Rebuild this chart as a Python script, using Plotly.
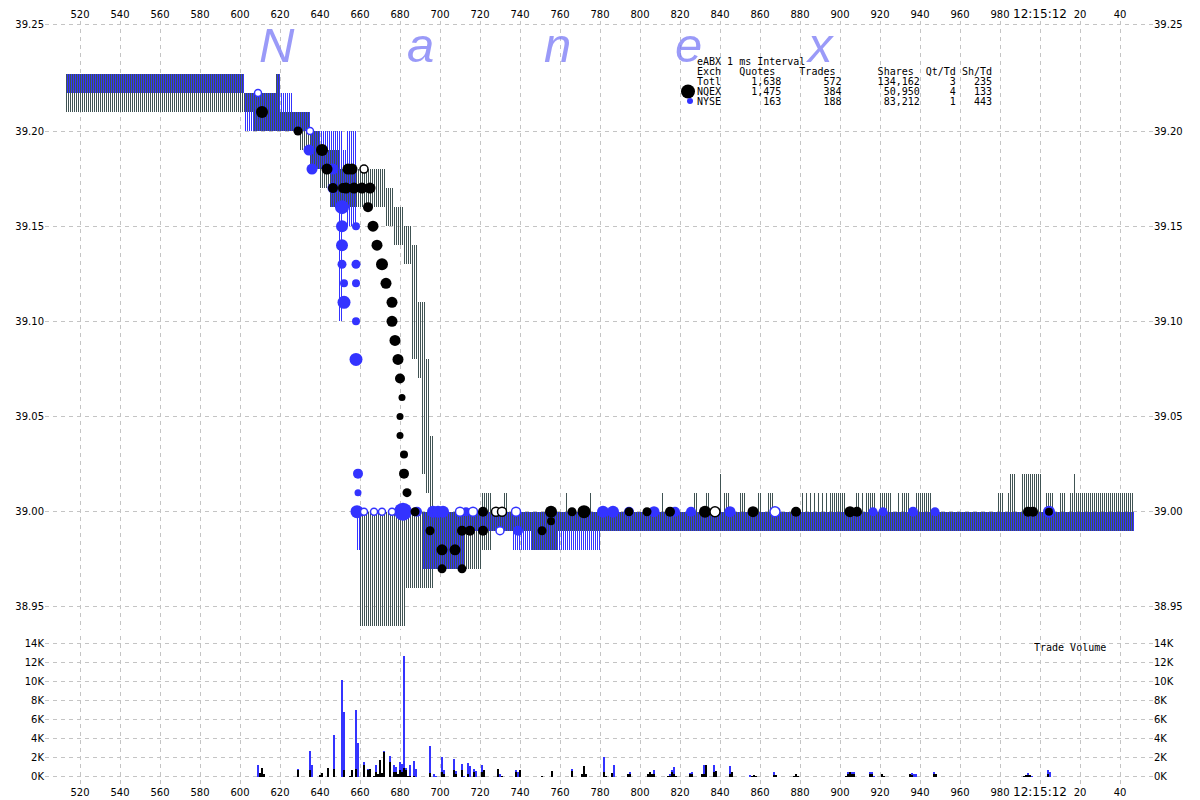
import plotly.graph_objects as go

# ---------------- axis labels ----------------
x_tick_vals = [520, 540, 560, 580, 600, 620, 640, 660, 680, 700, 720, 740, 760, 780, 800,
               820, 840, 860, 880, 900, 920, 940, 960, 980, 1000, 1020, 1040]
x_tick_text = ["520", "540", "560", "580", "600", "620", "640", "660", "680", "700", "720", "740",
               "760", "780", "800", "820", "840", "860", "880", "900", "920", "940", "960", "980",
               "<span style='font-size:12px'>12:15:12</span>", "20", "40"]
price_ticks = [38.95, 39.00, 39.05, 39.10, 39.15, 39.20, 39.2557]
price_tick_text = ["38.95", "39.00", "39.05", "39.10", "39.15", "39.20", "39.25"]
vol_ticks = [0, 2, 4, 6, 8, 10, 12, 14]
vol_tick_text = ["0K", "2K", "4K", "6K", "8K", "10K", "12K", "14K"]

# ---------------- quotes: segments (start ms, end ms, bid, ask) ----------------
# gray (NQEX) quote lines
g_t0 = [513, 602, 607, 618, 620, 630, 635, 640, 645, 650, 673, 677, 682, 686, 689, 691, 693, 695,
        660, 683, 691, 697, 721, 725, 732, 746, 759,
        895, 920, 941, 985, 991, 1003, 1018]
g_t1 = [602, 607, 618, 620, 630, 635, 640, 645, 650, 673, 677, 682, 686, 689, 691, 693, 695, 697,
        683, 691, 697, 721, 726, 746, 734, 759, 1047,
        903, 926, 946, 988, 1001, 1007, 1047]
g_bid = [39.21, 39.21, 39.20, 39.20, 39.20, 39.19, 39.18, 39.17, 39.16, 39.16, 39.15, 39.14, 39.13,
         39.08, 39.07, 39.02, 39.01, 39.00,
         38.94, 38.96, 38.96, 38.97, 38.98, 38.99, 38.99, 38.98, 38.99,
         38.99, 38.99, 38.99, 38.99, 38.99, 38.99, 38.99]
g_ask = [39.23, 39.22, 39.22, 39.23, 39.21, 39.21, 39.20, 39.19, 39.19, 39.18, 39.17, 39.16, 39.15,
         39.14, 39.11, 39.11, 39.08, 39.04,
         39.00, 39.00, 39.00, 39.00, 39.01, 39.00, 39.01, 39.00, 39.00,
         39.01, 39.01, 39.01, 39.02, 39.02, 39.01, 39.01]

# blue (NYSE) quote lines
b_t0 = [513, 602, 607, 618, 620, 626, 635, 645, 649, 651, 653, 658, 691, 712, 736, 780]
b_t1 = [602, 607, 618, 620, 626, 635, 645, 649, 651, 653, 658, 660, 712, 736, 780, 1047]
b_bid = [39.22, 39.20, 39.20, 39.20, 39.20, 39.20, 39.18, 39.16, 39.10, 39.16, 39.15, 38.98,
         38.97, 38.99, 38.98, 38.99]
b_ask = [39.23, 39.22, 39.22, 39.23, 39.22, 39.21, 39.20, 39.20, 39.20, 39.19, 39.20, 39.00,
         39.00, 39.00, 39.00, 39.00]

# single-ms gray ask spikes above the 39.00 offer
spike_ms = [763, 775, 811, 827, 828, 833, 834, 840, 842, 843, 844, 850, 851, 852, 859, 860, 864, 865,
            866, 881, 883, 885, 887, 889, 891, 893, 908, 909, 911, 913, 914, 915, 916, 917, 929, 931,
            932, 933, 934, 938, 939, 940, 979, 980, 981, 984, 1010, 1011, 1012, 1015, 1016, 1017]
spike_top = [39.01, 39.01, 39.01, 39.01, 39.01, 39.01, 39.01, 39.02, 39.01, 39.01, 39.01, 39.01, 39.01,
             39.01, 39.01, 39.01, 39.01, 39.01, 39.01, 39.01, 39.01, 39.01, 39.01, 39.01, 39.01, 39.01,
             39.01, 39.01, 39.01, 39.01, 39.01, 39.01, 39.01, 39.01, 39.01, 39.01, 39.01, 39.01, 39.01,
             39.01, 39.01, 39.01, 39.01, 39.01, 39.01, 39.01, 39.01, 39.01, 39.01, 39.01, 39.01, 39.02]

# ---------------- trades ----------------
nqex_ms = [611, 629, 641, 643.5, 654, 656, 662, 646.5, 651.5, 653, 657, 661, 665, 664, 666.5, 668.5,
           671, 673, 676, 676, 677.5, 679, 680, 681, 680, 680, 682, 682, 683.5, 687.5, 695, 701,
           707.5, 711, 715, 721.5, 701, 711, 721.5, 728, 731, 751, 755.5, 755.5, 766, 772, 794.5,
           803.5, 815, 832.5, 837.5, 856.5, 878, 905, 908.5, 994, 996.5, 1004.5]
nqex_px = [39.21, 39.20, 39.19, 39.18, 39.18, 39.18, 39.18, 39.17, 39.17, 39.17, 39.17, 39.17, 39.17,
           39.16, 39.15, 39.14, 39.13, 39.12, 39.11, 39.10, 39.09, 39.08, 39.07, 39.06, 39.05, 39.04,
           39.03, 39.02, 39.01, 39.00, 38.99, 38.98, 38.98, 38.99, 38.99, 38.99, 38.97, 38.97, 39.00,
           39.00, 39.00, 38.99, 38.995, 39.00, 39.00, 39.00, 39.00, 39.00, 39.00, 39.00, 39.00, 39.00,
           39.00, 39.00, 39.00, 39.00, 39.00, 39.00]
nqex_sz = [12, 9, 12, 11, 11, 11, 8, 10, 10, 11, 11, 11, 11, 10, 11, 11, 12, 11, 11, 11, 11, 11, 10,
           7, 7, 7, 8, 10, 9, 9, 9, 11, 11, 10, 10, 10, 9, 9, 10, 9, 9, 9, 8, 12, 9, 13, 9, 9, 10, 12,
           10, 11, 10, 11, 10, 10, 10, 8]
nqex_open = [0, 0, 0, 0, 0, 0, 1, 0, 0, 0, 0, 0, 0, 0, 0, 0, 0, 0, 0, 0, 0, 0, 0, 0, 0, 0, 0, 0, 0,
             0, 0, 0, 0, 0, 0, 0, 0, 0, 0, 1, 1, 0, 0, 0, 0, 0, 0, 0, 0, 0, 1, 0, 0, 0, 0, 0, 0, 0]

nyse_ms = [609, 635, 634.5, 636, 646.5, 646.5, 651, 651, 658, 651, 651, 658, 652, 658, 652, 658, 658,
           659, 659, 658.5, 662, 667, 671, 676, 681.5, 688.5, 696.5, 699, 701.5, 710, 713, 716.5, 730,
           739, 738, 781.5, 786.5, 794.5, 807, 817.5, 825.5, 845, 867.5, 916.5, 921.5, 936.5, 947.5,
           1004.5]
nyse_px = [39.22, 39.20, 39.19, 39.18, 39.18, 39.17, 39.16, 39.15, 39.15, 39.14, 39.13, 39.13, 39.12,
           39.12, 39.11, 39.10, 39.08, 39.02, 39.01, 39.00, 39.00, 39.00, 39.00, 39.00, 39.00, 39.00,
           39.00, 39.00, 39.00, 39.00, 39.00, 39.00, 38.99, 38.99, 39.00, 39.00, 39.00, 39.00, 39.00,
           39.00, 39.00, 39.00, 39.00, 39.00, 39.00, 39.00, 39.00, 39.00]
nyse_sz = [7, 7, 11, 11, 11, 11, 14, 12, 8, 12, 9, 9, 8, 8, 13, 8, 13, 10, 7, 13, 7, 7, 7, 7, 18, 10,
           12, 12, 12, 9, 9, 9, 8, 10, 9, 12, 12, 10, 11, 10, 10, 11, 10, 9, 9, 10, 9, 12]
nyse_open = [1, 1, 0, 0, 0, 0, 0, 0, 0, 0, 0, 0, 0, 0, 0, 0, 0, 0, 0, 0, 1, 1, 1, 1, 0, 0, 0, 0, 0, 1,
             0, 1, 1, 0, 1, 0, 0, 0, 0, 0, 0, 0, 1, 0, 0, 0, 0, 0]

# ---------------- trade volume per ms (thousands of shares) ----------------
nyse_vol_ms = [609, 629, 635, 636, 647, 651, 652, 658, 659, 662, 664, 668, 671, 672, 675, 677, 678, 680,
               681, 682, 683, 685, 687, 688, 695, 697, 698, 701, 702, 707, 708, 711, 712, 714, 715,
               717, 718, 721, 730, 738, 739, 766, 782, 787, 795, 807, 815, 816, 817, 825, 826, 832,
               837, 845, 846, 855, 857, 867, 904, 906, 907, 915, 916, 917, 936, 937, 938, 947, 994,
               996, 1004, 1005]
nyse_vol_k = [1.2, 0.8, 2.7, 1.2, 4.4, 10.15, 6.8, 7.0, 3.5, 1.5, 0.8, 1.2, 0.35, 2.7, 2.2, 1.2, 1.0,
              1.55, 1.35, 12.7, 0.9, 1.2, 1.65, 0.8, 3.2, 0.3, 0.1, 2.05, 0.7, 1.85, 0.6, 1.35, 0.1,
              1.45, 1.1, 0.8, 0.6, 1.2, 0.3, 0.7, 0.5, 0.8, 2.05, 1.2, 0.5, 0.7, 0.3, 0.7, 1.0, 0.4,
              0.5, 1.2, 1.2, 1.1, 0.5, 0.2, 0.2, 0.5, 0.5, 0.5, 0.5, 0.5, 0.5, 0.1, 0.4, 0.3, 0.3, 0.5,
              0.4, 0.1, 0.7, 0.5]
nqex_vol_ms = [610, 611, 612, 629, 635, 640, 641, 644, 647, 652, 655, 656, 658, 662, 664, 665, 667, 668,
               669, 670, 671, 672, 675, 677, 678, 679, 680, 681, 682, 683, 684, 685, 687, 695, 701,
               702, 707, 708, 711, 714, 717, 721, 722, 729, 731, 738, 740, 751, 756, 766, 771, 772,
               773, 782, 783, 786, 794, 795, 804, 805, 806, 807, 814, 815, 816, 817, 818, 825, 826,
               831, 832, 833, 837, 838, 845, 846, 856, 857, 858, 867, 868, 877, 878, 879, 903, 904,
               905, 906, 907, 915, 916, 921, 922, 935, 936, 947, 948, 992, 993, 994, 995, 1004]
nqex_vol_k = [0.35, 0.95, 0.25, 0.7, 0.7, 0.2, 0.4, 0.95, 0.8, 0.7, 0.1, 0.7, 0.8, 1.2, 0.7, 0.8, 0.1,
              0.5, 0.3, 1.75, 0.35, 2.6, 1.55, 0.5, 0.5, 0.3, 0.7, 0.5, 0.9, 0.7, 0.07, 0.07, 0.1,
              0.35, 0.5, 0.3, 0.7, 0.3, 0.7, 0.3, 0.5, 0.5, 0.7, 0.8, 0.07, 0.5, 0.7, 0.07, 0.6, 0.6,
              0.3, 1.1, 0.3, 0.5, 0.07, 0.35, 0.3, 0.3, 0.3, 0.5, 0.3, 0.3, 0.07, 0.07, 0.5, 0.3, 0.07,
              0.3, 0.3, 0.3, 0.3, 1.2, 0.5, 0.6, 0.3, 0.5, 0.07, 0.2, 0.07, 0.2, 0.2, 0.07, 0.3, 0.07,
              0.07, 0.3, 0.5, 0.3, 0.3, 0.3, 0.3, 0.3, 0.07, 0.3, 0.2, 0.3, 0.3, 0.07, 0.2, 0.2, 0.2,
              0.3]

# ---------------- summary table ----------------
legend_title = "eABX 1 ms Interval"
legend_exch = ["Totl", "NQEX", "NYSE"]
legend_quotes = [1638, 1475, 163]
legend_trades = [572, 384, 188]
legend_shares = [134162, 50950, 83212]
legend_qt_td = [3, 4, 1]
legend_sh_td = [235, 133, 443]

watermark = ["N", "a", "n", "e", "x"]

# ---------------- styling ----------------
GRAY = "rgba(63,82,82,0.995)"
BLUE = "#3333ff"
BLUE_BAR = "rgba(51,51,255,0.995)"
GRID = "#c4c4c4"
OFF = 8                      # page body margin of the browser
TOP = 21                     # screen y of the plot top
W, H = 1200 - OFF, 800 - OFF
ML, MR, MT, MB = 45 - OFF, 47, TOP - OFF, 15
PW, PH = W - ML - MR, H - MT - MB


def px_x(p):
    return (p - OFF - ML) / PW


def px_y(p):
    return (H - MB - (p - OFF)) / PH


def stripes(t0s, t1s, bids, asks, shift):
    xs, base, h = [], [], []
    for a, b, lo, hi in zip(t0s, t1s, bids, asks):
        for t in range(a, b):
            xs.append(t + shift)
            base.append(lo)
            h.append(round(hi - lo, 4))
    return xs, base, h


fig = go.Figure()

gx, gb, gh = stripes(g_t0, g_t1, g_bid, g_ask, 0.25)
bx, bb, bh = stripes(b_t0, b_t1, b_bid, b_ask, 0.75)
fig.add_trace(go.Bar(x=gx, base=gb, y=gh, width=0.5, marker=dict(color=GRAY, line_width=0),
                     xaxis="x", yaxis="y", hoverinfo="skip"))
fig.add_trace(go.Bar(x=[m + 0.25 for m in spike_ms], base=[39.00] * len(spike_ms),
                     y=[round(v - 39.00, 4) for v in spike_top], width=0.5,
                     marker=dict(color=GRAY, line_width=0), xaxis="x", yaxis="y", hoverinfo="skip"))
fig.add_trace(go.Bar(x=bx, base=bb, y=bh, width=0.5, marker=dict(color=BLUE_BAR, line_width=0),
                     xaxis="x", yaxis="y", hoverinfo="skip"))


def trade_trace(ms, px, sz, op, color, hollow):
    sel = [i for i in range(len(ms)) if op[i] == (1 if hollow else 0)]
    return go.Scatter(
        x=[ms[i] for i in sel], y=[px[i] for i in sel], mode="markers",
        marker=dict(size=[sz[i] for i in sel], color="white" if hollow else color, opacity=1,
                    line=dict(color=color, width=1.5 if hollow else 0)),
        xaxis="x", yaxis="y", hoverinfo="skip")


fig.add_trace(trade_trace(nyse_ms, nyse_px, nyse_sz, nyse_open, BLUE, False))
fig.add_trace(trade_trace(nyse_ms, nyse_px, nyse_sz, nyse_open, BLUE, True))
fig.add_trace(trade_trace(nqex_ms, nqex_px, nqex_sz, nqex_open, "black", False))
fig.add_trace(trade_trace(nqex_ms, nqex_px, nqex_sz, nqex_open, "black", True))

fig.add_trace(go.Bar(x=nyse_vol_ms, y=nyse_vol_k, width=1.0, marker=dict(color=BLUE_BAR, line_width=0),
                     xaxis="x2", yaxis="y2", hoverinfo="skip"))
fig.add_trace(go.Bar(x=nqex_vol_ms, y=nqex_vol_k, width=1.0,
                     marker=dict(color="rgba(0,0,0,0.995)", line_width=0),
                     xaxis="x2", yaxis="y2", hoverinfo="skip"))

# invisible anchors for the right-hand tick label axes
fig.add_trace(go.Scatter(x=[None], y=[None], xaxis="x", yaxis="y3", hoverinfo="skip"))
fig.add_trace(go.Scatter(x=[None], y=[None], xaxis="x2", yaxis="y4", hoverinfo="skip"))

TICKFONT = dict(family="DejaVu Sans", size=10, color="black")
price_range = [39 - (630 - 511.7) / 1903.5, 39 + (511.7 - TOP) / 1903.5]
vol_range = [-(785 - 776.7) / 9.53, (776.7 - 636) / 9.53]
price_dom = [px_y(630), 1]
vol_dom = [0, px_y(636)]

xcommon = dict(range=[502.5, 502.5 + PW / 2], tickvals=x_tick_vals, ticktext=x_tick_text,
               showgrid=True, gridcolor=GRID, griddash="4px,4px", gridwidth=1, zeroline=False,
               showline=False, ticks="", tickfont=TICKFONT, tickangle=0, automargin=False)
ycommon = dict(showgrid=True, gridcolor=GRID, griddash="4px,4px", gridwidth=1, zeroline=False,
               showline=False, ticks="", tickfont=TICKFONT, automargin=False)

fig.update_layout(
    width=W, height=H, margin=dict(l=ML, r=MR, t=MT, b=MB, autoexpand=False),
    paper_bgcolor="white", plot_bgcolor="white", showlegend=False,
    barmode="overlay", bargap=0, bargroupgap=0,
    xaxis=dict(xcommon, anchor="y", side="top"),
    xaxis2=dict(xcommon, anchor="y2", side="bottom", matches="x"),
    yaxis=dict(ycommon, domain=price_dom, range=price_range, tickvals=price_ticks,
               ticktext=price_tick_text, side="left", anchor="x"),
    yaxis3=dict(ycommon, domain=price_dom, range=price_range, tickvals=price_ticks,
                ticktext=price_tick_text, side="right", overlaying="y", anchor="x", showgrid=False),
    yaxis2=dict(ycommon, domain=vol_dom, range=vol_range, tickvals=vol_ticks, ticktext=vol_tick_text,
                side="left", anchor="x2"),
    yaxis4=dict(ycommon, domain=vol_dom, range=vol_range, tickvals=vol_ticks, ticktext=vol_tick_text,
                side="right", overlaying="y2", anchor="x2", showgrid=False),
)

# watermark letters
for letter, cx in zip(watermark, [277, 420, 557, 688, 820]):
    fig.add_annotation(text=letter, xref="paper", yref="paper", x=px_x(cx), y=px_y(44.5),
                       xanchor="center", yanchor="middle", showarrow=False,
                       font=dict(family="Liberation Sans", size=49, color="rgba(120,120,245,0.75)",
                                 style="italic"))

# summary table
NB = "\u00a0"
mono = dict(family="DejaVu Sans Mono", size=10, color="black")
header = "Exch" + " " * 3 + "Quotes" + " " * 4 + "Trades" + " " * 7 + "Shares" + " " * 2 + "Qt/Td" + " " + "Sh/Td"
lines = [legend_title, header]
for e, q, t, s, a, b in zip(legend_exch, legend_quotes, legend_trades, legend_shares, legend_qt_td, legend_sh_td):
    lines.append(f"{e:<4}{q:>10,}{t:>10,}{s:>13,}{a:>6}{b:>6}")
for i, ln in enumerate(lines):
    fig.add_annotation(text=ln.replace(" ", NB), xref="paper", yref="paper", x=px_x(695),
                       y=px_y(62 + i * 9.8), xanchor="left", yanchor="middle", showarrow=False,
                       font=mono)

fig.add_shape(type="circle", xref="paper", yref="paper", xsizemode="pixel", ysizemode="pixel",
              xanchor=px_x(688), yanchor=px_y(91.5), x0=-7, x1=7, y0=-7, y1=7,
              fillcolor="black", line_width=0)
fig.add_shape(type="circle", xref="paper", yref="paper", xsizemode="pixel", ysizemode="pixel",
              xanchor=px_x(690), yanchor=px_y(101), x0=-3, x1=3, y0=-3, y1=3,
              fillcolor=BLUE, line_width=0)

fig.add_annotation(text="Trade" + NB + "Volume", xref="paper", yref="paper", x=px_x(1032), y=px_y(647),
                   xanchor="left", yanchor="middle", showarrow=False, font=mono)

fig.write_html("out.html")
